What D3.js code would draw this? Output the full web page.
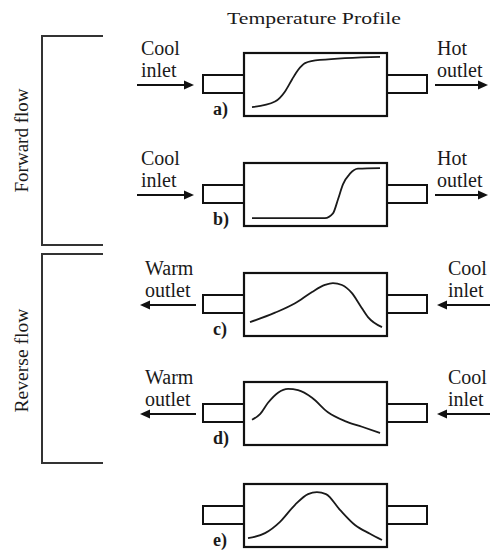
<!DOCTYPE html>
<html>
<head>
<meta charset="utf-8">
<script src="https://cdn.jsdelivr.net/npm/d3@7"></script>
<style>
  html, body { margin: 0; padding: 0; background: #fff; }
  svg { display: block; }
  text { font-family: "Liberation Serif", "Times New Roman", serif; fill: #1a1a1a; }
</style>
</head>
<body>
<svg id="chart" width="490" height="550"></svg>
<script>
// ---------- data ----------
const panelLabels = ["a)", "b)", "c)", "d)", "e)"];
const flowGroups = ["Forward flow", "Reverse flow"];
const titleText = "Temperature Profile";
// inlet/outlet labels per row
const leftLabels  = [["Cool", "inlet"], ["Cool", "inlet"], ["Warm", "outlet"], ["Warm", "outlet"], null];
const rightLabels = [["Hot", "outlet"], ["Hot", "outlet"], ["Cool", "inlet"], ["Cool", "inlet"], null];
const flowDirection = ["right", "right", "left", "left", null];

// temperature profiles: [position along tube (0..1), relative temperature (0..1)]
const profileA = [[0.056,0.14],[0.217,0.23],[0.287,0.39],[0.336,0.58],[0.378,0.73],[0.427,0.84],[0.531,0.89],[0.951,0.94]];
const profileB = [[0.056,0.125],[0.566,0.125],[0.622,0.20],[0.657,0.42],[0.692,0.66],[0.741,0.83],[0.797,0.91],[0.951,0.92]];
const profileC = [[0.042,0.22],[0.217,0.37],[0.357,0.52],[0.476,0.70],[0.566,0.81],[0.622,0.84],[0.685,0.81],[0.755,0.68],[0.811,0.49],[0.867,0.30],[0.965,0.14]];
const profileD = [[0.056,0.40],[0.112,0.49],[0.168,0.67],[0.238,0.83],[0.308,0.89],[0.378,0.87],[0.476,0.75],[0.587,0.52],[0.706,0.38],[0.825,0.29],[0.951,0.19]];
const profileE = [[0.028,0.14],[0.147,0.22],[0.252,0.40],[0.357,0.67],[0.448,0.84],[0.510,0.87],[0.573,0.84],[0.671,0.59],[0.776,0.35],[0.881,0.21],[0.965,0.11]];
const profiles = [profileA, profileB, profileC, profileD, profileE];

// ---------- layout ----------
const svg = d3.select("#chart");
const boxLeft = 244, boxRight = 387, boxH = 63;
const pipeLeftX = 203, pipeRightX = 427;
const rowTops = [53, 163, 273, 382, 484];
const rowScale = d3.scaleOrdinal().domain(panelLabels).range(rowTops);
const xPos = d3.scaleLinear().domain([0, 1]).range([boxLeft, boxRight]);

svg.append("text")
  .attr("x", 314).attr("y", 24)
  .attr("text-anchor", "middle")
  .attr("font-size", 17)
  .attr("textLength", 174).attr("lengthAdjust", "spacingAndGlyphs")
  .text(titleText);

// brackets
const brackets = [{label: flowGroups[0], y0: 36, y1: 245}, {label: flowGroups[1], y0: 254, y1: 463}];
brackets.forEach(b => {
  svg.append("path")
    .attr("d", `M103,${b.y0} H42 V${b.y1} H103`)
    .attr("fill", "none").attr("stroke", "#333").attr("stroke-width", 2);
  const cy = (b.y0 + b.y1) / 2 + (b.label === flowGroups[0] ? 0 : 2);
  svg.append("text")
    .attr("transform", `translate(28,${cy}) rotate(-90)`)
    .attr("text-anchor", "middle")
    .attr("font-size", 18)
    .attr("textLength", 104).attr("lengthAdjust", "spacingAndGlyphs")
    .text(b.label);
});

function arrow(g, x0, x1, y) {
  const dir = Math.sign(x1 - x0);
  const head = 10, hw = 4.5;
  g.append("line").attr("x1", x0).attr("x2", x1 - dir * head + dir).attr("y1", y).attr("y2", y)
    .attr("stroke", "#111").attr("stroke-width", 2);
  g.append("path")
    .attr("d", `M${x1},${y} L${x1 - dir * head},${y - hw} L${x1 - dir * head},${y + hw} Z`)
    .attr("fill", "#111");
}

panelLabels.forEach((lab, i) => {
  const top = rowScale(lab);
  const bottom = top + boxH;
  const g = svg.append("g");
  const pipeY0 = top + 22, pipeY1 = top + 40, pipeC = (pipeY0 + pipeY1) / 2;

  g.append("rect").attr("x", pipeLeftX).attr("y", pipeY0).attr("width", boxLeft - pipeLeftX).attr("height", pipeY1 - pipeY0)
    .attr("fill", "#fff").attr("stroke", "#111").attr("stroke-width", 2);
  g.append("rect").attr("x", boxRight).attr("y", pipeY0).attr("width", pipeRightX - boxRight).attr("height", pipeY1 - pipeY0)
    .attr("fill", "#fff").attr("stroke", "#111").attr("stroke-width", 2);
  g.append("rect").attr("x", boxLeft).attr("y", top).attr("width", boxRight - boxLeft).attr("height", boxH)
    .attr("fill", "#fff").attr("stroke", "#111").attr("stroke-width", 2.2);

  const yPos = d3.scaleLinear().domain([0, 1]).range([bottom, top]);
  const line = d3.line().x(d => xPos(d[0])).y(d => yPos(d[1])).curve(d3.curveMonotoneX);
  g.append("path").attr("d", line(profiles[i]))
    .attr("fill", "none").attr("stroke", "#1a1a1a").attr("stroke-width", 1.8);

  g.append("text").attr("x", 213).attr("y", bottom - 1)
    .attr("font-size", 18).attr("font-weight", "bold").text(lab);

  if (leftLabels[i]) {
    const lx = flowDirection[i] === "right" ? 141 : 145;
    g.append("text").attr("x", lx).attr("y", top + 2).attr("font-size", 20).text(leftLabels[i][0]);
    g.append("text").attr("x", lx).attr("y", top + 24).attr("font-size", 20).text(leftLabels[i][1]);
    const rx = flowDirection[i] === "right" ? 437 : 448;
    g.append("text").attr("x", rx).attr("y", top + 2).attr("font-size", 20).text(rightLabels[i][0]);
    g.append("text").attr("x", rx).attr("y", top + 24).attr("font-size", 20).text(rightLabels[i][1]);
    if (flowDirection[i] === "right") {
      arrow(g, 137, 194, pipeC + 1);
      arrow(g, 435, 488, pipeC + 1);
    } else {
      arrow(g, 196, 140, pipeC + 1);
      arrow(g, 492, 437, pipeC + 1);
    }
  }
});
</script>
</body>
</html>
